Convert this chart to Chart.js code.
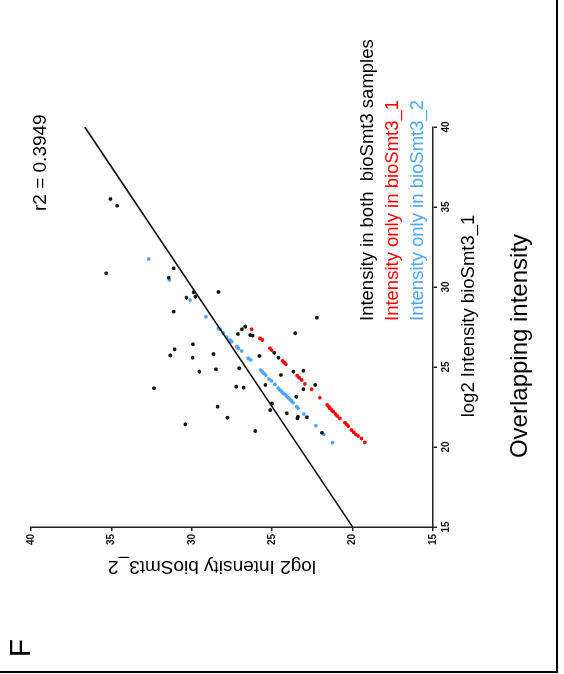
<!DOCTYPE html>
<html>
<head>
<meta charset="utf-8">
<script src="https://cdn.jsdelivr.net/npm/chart.js@4.4.0/dist/chart.umd.min.js"></script>
<style>
  html, body { margin: 0; padding: 0; background: #fff; overflow: hidden; }
  /* the whole figure is laid out landscape, then turned on its side */
  #wrap {
    position: absolute; left: 0; top: 0;
    width: 674px; height: 564px;
    transform-origin: 0 0;
    transform: translate(0, 674px) rotate(-90deg);
  }
</style>
</head>
<body>
<div id="wrap"><canvas id="overlapChart" width="674" height="564"></canvas></div>
<script>
// log2 intensities, bioSmt3_1 (x) against bioSmt3_2 (y)
const bothX = [35.5, 35.08, 30.86, 31.17, 30.58, 29.69, 29.67, 29.33, 29.39, 28.46, 28.08, 27.52, 27.36, 27.06, 27.0, 26.96, 27.11, 26.42, 26.11, 25.73, 25.58, 25.81, 25.89, 25.69, 25.58, 24.92, 24.86, 24.71, 24.71, 24.77, 24.5, 23.88, 23.61, 23.88, 23.77, 23.71, 23.14, 23.67, 22.73, 22.52, 22.31, 22.11, 21.89, 21.79, 21.86, 21.83, 21.42, 21.0, 20.89];
const bothY = [35.06, 34.65, 35.33, 31.13, 31.44, 28.34, 29.89, 30.34, 29.78, 31.13, 22.22, 26.68, 26.88, 27.13, 26.37, 26.22, 23.57, 29.93, 31.07, 31.34, 29.95, 28.65, 24.88, 25.79, 24.61, 27.05, 28.50, 29.53, 23.68, 23.06, 24.46, 25.43, 23.06, 22.33, 27.24, 26.78, 23.51, 32.35, 25.02, 28.40, 25.12, 24.09, 23.40, 23.43, 22.84, 27.78, 30.40, 26.06, 21.91];

const only1X = [27.36, 26.79, 26.69, 26.17, 26.06, 25.38, 25.27, 25.17, 24.46, 24.33, 24.19, 23.94, 23.61, 23.08, 22.63, 22.52, 22.42, 22.31, 22.21, 22.06, 21.94, 21.79, 21.52, 21.42, 21.31, 21.06, 20.92, 20.79, 20.69, 20.54, 20.29];
const only1Y = [26.28, 25.76, 25.62, 25.14, 25.04, 24.35, 24.25, 24.15, 23.45, 23.32, 23.17, 22.97, 22.55, 22.04, 21.58, 21.48, 21.42, 21.31, 21.21, 21.06, 20.96, 20.80, 20.48, 20.38, 20.28, 20.07, 19.93, 19.80, 19.66, 19.45, 19.24];

const only2X = [31.75, 30.44, 29.19, 28.14, 27.42, 27.36, 27.11, 26.86, 26.69, 26.58, 26.27, 26.17, 26.0, 25.54, 25.44, 24.81, 24.71, 24.61, 24.5, 24.25, 24.13, 23.92, 23.67, 23.56, 23.46, 23.36, 23.29, 23.19, 23.08, 22.98, 22.88, 22.77, 22.52, 22.42, 22.06, 21.33, 20.79, 20.27];
const only2Y = [32.68, 31.40, 30.11, 29.12, 28.35, 28.25, 28.04, 27.83, 27.63, 27.52, 27.21, 27.11, 26.90, 26.49, 26.34, 25.72, 25.62, 25.52, 25.41, 25.20, 25.04, 24.83, 24.63, 24.52, 24.42, 24.32, 24.21, 24.11, 24.01, 23.90, 23.80, 23.70, 23.48, 23.39, 23.03, 22.29, 21.79, 21.25];

// fitted line end points
const fitX = [15, 40];
const fitY = [20, 36.66];

const axisTicks = [15, 20, 25, 30, 35, 40];
const r2Label = "r2 = 0.3949";

const legendLabels = [
  "Intensity in both  bioSmt3 samples",
  "Intensity only in bioSmt3_1",
  "Intensity only in bioSmt3_2"
];
const seriesColors = ["#151509", "#ff0000", "#4ea6ff"];
const legendColors = ["#000", "#ff0000", "#4ea6ff"];

function toPoints(xs, ys) {
  return xs.map((x, i) => ({ x: x, y: ys[i] }));
}

const FONT = "'Liberation Sans', Arial, Helvetica, sans-serif";

// text, frame and panel letter
const annotations = {
  id: "annotations",
  afterDraw(chart) {
    const ctx = chart.ctx;
    ctx.save();
    ctx.fillStyle = "#000";
    ctx.textBaseline = "middle";

    ctx.font = "24px " + FONT;
    ctx.textAlign = "center";
    ctx.fillText("Overlapping intensity", 328, 520);

    ctx.font = "18.5px " + FONT;
    ctx.fillText("log2 Intensity bioSmt3_1", 358, 469);

    ctx.save();
    ctx.translate(108, 212);
    ctx.rotate(-Math.PI / 2);
    ctx.font = "19px " + FONT;
    ctx.fillText("log2 Intensity bioSmt3_2", 0, 0);
    ctx.restore();

    ctx.textAlign = "left";
    ctx.font = "18.5px " + FONT;
    legendLabels.forEach((label, i) => {
      ctx.fillStyle = legendColors[i];
      ctx.fillText(label, 353, 368 + i * 25);
    });

    ctx.fillStyle = "#000";
    ctx.font = "19px " + FONT;
    ctx.fillText(r2Label, 463, 41);

    ctx.font = "30px " + FONT;
    ctx.textAlign = "center";
    ctx.fillText("F", 26, 22);

    // frame on two sides
    ctx.strokeStyle = "#000";
    ctx.lineWidth = 2;
    ctx.beginPath();
    ctx.moveTo(2, 0);
    ctx.lineTo(2, 557);
    ctx.lineTo(674, 557);
    ctx.stroke();
    ctx.restore();
  }
};

const whiteBg = {
  id: "whiteBg",
  beforeDraw(chart) {
    const ctx = chart.ctx;
    ctx.save();
    ctx.fillStyle = "#fff";
    ctx.fillRect(0, 0, chart.width, chart.height);
    ctx.restore();
  }
};

function axisOptions(fitFn) {
  return {
    type: "linear",
    min: 15,
    max: 40,
    afterBuildTicks: (scale) => { scale.ticks = axisTicks.map(v => ({ value: v })); },
    afterFit: fitFn,
    ticks: {
      color: "#111",
      font: { family: FONT, size: 10, weight: "bold" },
      padding: 3
    },
    grid: {
      display: true,
      drawOnChartArea: false,
      drawTicks: true,
      tickLength: 4,
      color: "#222",
      lineWidth: 1.5
    },
    border: { display: true, color: "#222", width: 1.5 }
  };
}

const chartEl = document.getElementById("overlapChart");
new Chart(chartEl, {
  type: "scatter",
  data: {
    datasets: [
      {
        label: "fit",
        data: toPoints(fitX, fitY),
        showLine: true,
        borderColor: "#111",
        borderWidth: 1.6,
        pointRadius: 0,
        fill: false
      },
      {
        label: legendLabels[0],
        data: toPoints(bothX, bothY),
        backgroundColor: seriesColors[0],
        pointRadius: 1.9,
        borderWidth: 0
      },
      {
        label: legendLabels[1],
        data: toPoints(only1X, only1Y),
        backgroundColor: seriesColors[1],
        pointRadius: 1.9,
        borderWidth: 0
      },
      {
        label: legendLabels[2],
        data: toPoints(only2X, only2Y),
        backgroundColor: seriesColors[2],
        pointRadius: 1.9,
        borderWidth: 0
      }
    ]
  },
  options: {
    responsive: false,
    animation: false,
    devicePixelRatio: 1,
    layout: { padding: { top: 31, right: 127, bottom: 0, left: 0 } },
    plugins: {
      legend: { display: false },
      tooltip: { enabled: false }
    },
    scales: {
      x: axisOptions((scale) => { scale.height = 131; }),
      y: axisOptions((scale) => { scale.width = 147; })
    }
  },
  plugins: [whiteBg, annotations]
});
</script>
</body>
</html>
